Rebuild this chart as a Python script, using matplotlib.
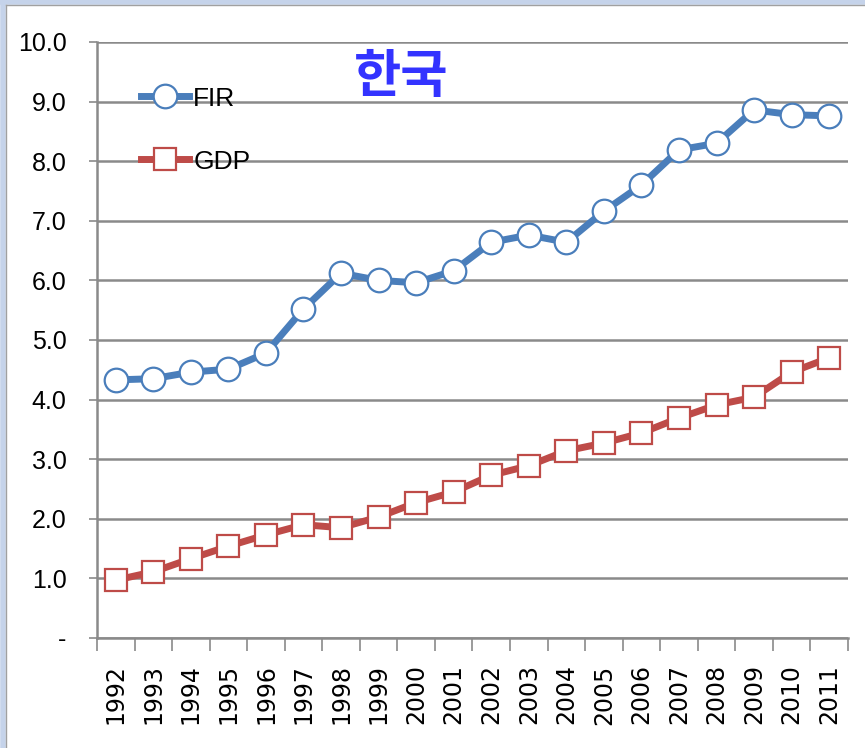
import numpy as np
import matplotlib.pyplot as plt
from matplotlib import font_manager
from matplotlib.lines import Line2D
from matplotlib.ticker import FixedLocator

########################################

# Data

years = [str(y) for y in range(1992, 2012)]

fir = [4.33, 4.35, 4.46, 4.51, 4.78, 5.52, 6.12, 6.00, 5.96, 6.16,
       6.64, 6.76, 6.64, 7.16, 7.60, 8.19, 8.30, 8.86, 8.78, 8.76]

gdp = [0.97, 1.11, 1.33, 1.54, 1.73, 1.90, 1.85, 2.03, 2.27, 2.45,
       2.73, 2.89, 3.14, 3.27, 3.44, 3.69, 3.91, 4.04, 4.46, 4.70]

y_ticks = [0, 1, 2, 3, 4, 5, 6, 7, 8, 9, 10]
y_labels = ["-", "1.0", "2.0", "3.0", "4.0", "5.0", "6.0", "7.0", "8.0", "9.0", "10.0"]

title = "한국"

########################################

# Fonts: the original uses a condensed face, fall back if it is not there

installed = {f.name for f in font_manager.fontManager.ttflist}
narrow = "Liberation Sans Narrow" if "Liberation Sans Narrow" in installed else "Liberation Sans"

fir_color = "#4a7ebb"
gdp_color = "#be4b48"
grid_color = "#8a8a8a"

fig = plt.figure(figsize = (8.65, 7.48), dpi = 100)
ax = fig.add_axes([0.1121, 0.1471, 0.8682, 0.7968])

x = np.arange(len(years))

ax.plot(x, fir, color = fir_color, lw = 5, marker = "o", markersize = 17,
        markerfacecolor = "white", markeredgecolor = fir_color, markeredgewidth = 1.6,
        label = "FIR", zorder = 3)
ax.plot(x, gdp, color = gdp_color, lw = 5, marker = "s", markersize = 16,
        markerfacecolor = "white", markeredgecolor = gdp_color, markeredgewidth = 1.6,
        label = "GDP", zorder = 3)

ax.set_xlim(-0.5, len(years) - 0.5)
ax.set_ylim(0, 10)

# y axis
ax.set_yticks(y_ticks)
ax.set_yticklabels(y_labels, fontfamily = narrow, fontsize = 18)
ax.yaxis.grid(True, color = grid_color, lw = 1.8)
ax.set_axisbelow(True)
ax.tick_params(axis = "y", length = 6, width = 1.2, color = grid_color, pad = 16)

# x axis: labels in the middle, tick marks on the category edges
ax.set_xticks(x)
ax.set_xticklabels(years, rotation = 90, fontfamily = "DejaVu Sans", fontsize = 17)
ax.tick_params(axis = "x", which = "major", length = 0, pad = 19)
ax.xaxis.set_minor_locator(FixedLocator(np.arange(-0.5, len(years), 1.0)))
ax.tick_params(axis = "x", which = "minor", length = 9, width = 1.2, color = grid_color)

for side in ["top", "right"]:
    ax.spines[side].set_visible(False)
for side in ["left", "bottom"]:
    ax.spines[side].set_color(grid_color)
    ax.spines[side].set_linewidth(1.8)

ax.text(0.405, 0.942, title, transform = ax.transAxes, ha = "center", va = "center",
        color = "#3333ff", fontsize = 37, fontweight = "bold",
        fontfamily = ["Noto Sans CJK KR", "DejaVu Sans"])

ax.legend(loc = "upper left", bbox_to_anchor = (0.058, 0.925), frameon = False,
          prop = {"family": narrow, "size": 19}, handlelength = 1.85,
          handletextpad = 0.15, labelspacing = 1.48, borderpad = 0, borderaxespad = 0)

# window-like frame on the left and top
fig.add_artist(Line2D([0.003, 0.003], [0, 1], transform = fig.transFigure, color = "#c5d3ea", lw = 4))
fig.add_artist(Line2D([0, 1], [0.997, 0.997], transform = fig.transFigure, color = "#c5d3ea", lw = 4))
fig.add_artist(Line2D([0.0065, 0.0065], [0, 0.993], transform = fig.transFigure, color = "#a0a0a0", lw = 1))
fig.add_artist(Line2D([0.0065, 1], [0.993, 0.993], transform = fig.transFigure, color = "#a0a0a0", lw = 1))

plt.savefig("out.png", dpi = 100)
plt.close()
